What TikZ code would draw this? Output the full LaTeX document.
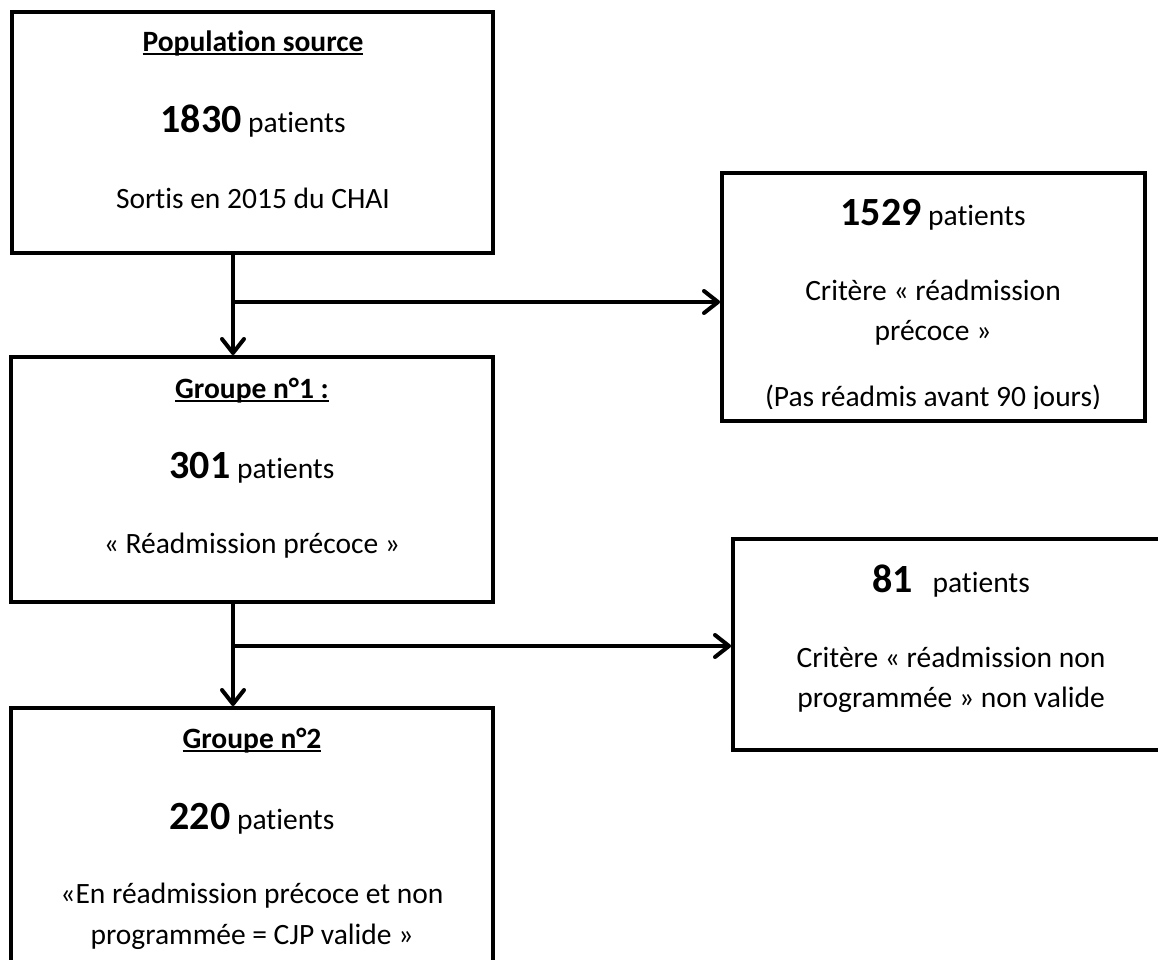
\documentclass[tikz,border=0pt]{standalone}
\usepackage{fontspec}
\setmainfont{Carlito}[Ligatures=NoCommon]
\usetikzlibrary{arrows.meta}
\newcommand{\bodyfs}{\fontsize{29.5pt}{35pt}\selectfont}
\newcommand{\bigfs}{\fontsize{40pt}{48pt}\selectfont}
\newcommand{\num}[1]{{\bigfs\bfseries #1}}
\newcommand{\ulin}[1]{\setbox0\hbox{#1}\rlap{\rule[-3.5pt]{\wd0}{2pt}}\box0}
\begin{document}
\begin{tikzpicture}[x=1pt,y=-1pt,
  boxnode/.style={draw=black, line width=4pt, rectangle, inner sep=0pt, fill=white},
  txt/.style={anchor=base, inner sep=0pt, font=\bodyfs},
  conn/.style={line width=4pt, line cap=round},
  arrowconn/.style={conn, -{Straight Barb[length=14pt,width=22pt,line cap=round,line join=round]}}
]
\useasboundingbox (0,0) rectangle (1158,960);
\fill[white] (0,0) rectangle (1158,960);
\clip (0,0) rectangle (1158,960);

% boxes
\node[boxnode, minimum width=481pt, minimum height=241pt] (b1) at (252.5,132.5) {};
\node[boxnode, minimum width=423pt, minimum height=248pt] (b2) at (933.5,297) {};
\node[boxnode, minimum width=482pt, minimum height=245pt] (b3) at (252,479.5) {};
\node[boxnode, minimum width=436pt, minimum height=211pt] (b4) at (951,644.5) {};
\node[boxnode, minimum width=482pt, minimum height=292pt] (b5) at (252,854) {};

% junctions
\coordinate (j1) at (233,302);
\coordinate (j2) at (233,646);

% connectors
\draw[conn] (b1.south -| j1) -- (j1);
\draw[arrowconn] (j1) -- (b3.north -| j1);
\draw[arrowconn] (j1) -- (j1 -| b2.west);
\draw[conn] (b3.south -| j2) -- (j2);
\draw[arrowconn] (j2) -- (b5.north -| j2);
\draw[arrowconn] (j2) -- (j2 -| b4.west);

% box 1 text
\node[txt] (t1a) at (253,52) {\bfseries\ulin{Population source}};
\node[txt] (t1b) at (253,133) {\num{1830} patients};
\node[txt] (t1c) at (253,208) {Sortis en 2015 du CHAI};

% box 2 text
\node[txt] (t2a) at (933,225) {\num{1529} patients};
\node[txt] (t2b) at (933,300) {Critère « réadmission};
\node[txt] (t2c) at (933,340) {précoce »};
\begin{scope}
\clip (700,160) rectangle (1160,408.5);
\node[txt] (t2d) at (933,406) {(Pas réadmis avant 90 jours)};
\end{scope}

% box 3 text
\node[txt] (t3a) at (252,398) {\bfseries\ulin{Groupe n°1 :}};
\node[txt] (t3b) at (252,478) {\num{301} patients};
\node[txt] (t3c) at (252,553) {« Réadmission précoce »};

% box 4 text
\node[txt] (t4a) at (951,592) {\num{81}\hspace{0.45em} patients};
\node[txt] (t4b) at (951,667) {Critère « réadmission non};
\node[txt] (t4c) at (951,707) {programmée » non valide};

% box 5 text
\node[txt] (t5a) at (252,748) {\bfseries\ulin{Groupe n°2}};
\node[txt] (t5b) at (252,829) {\num{220} patients};
\node[txt] (t5c) at (252,903) {«En réadmission précoce et non};
\node[txt] (t5d) at (252,944) {programmée = CJP valide »};
\end{tikzpicture}
\end{document}
